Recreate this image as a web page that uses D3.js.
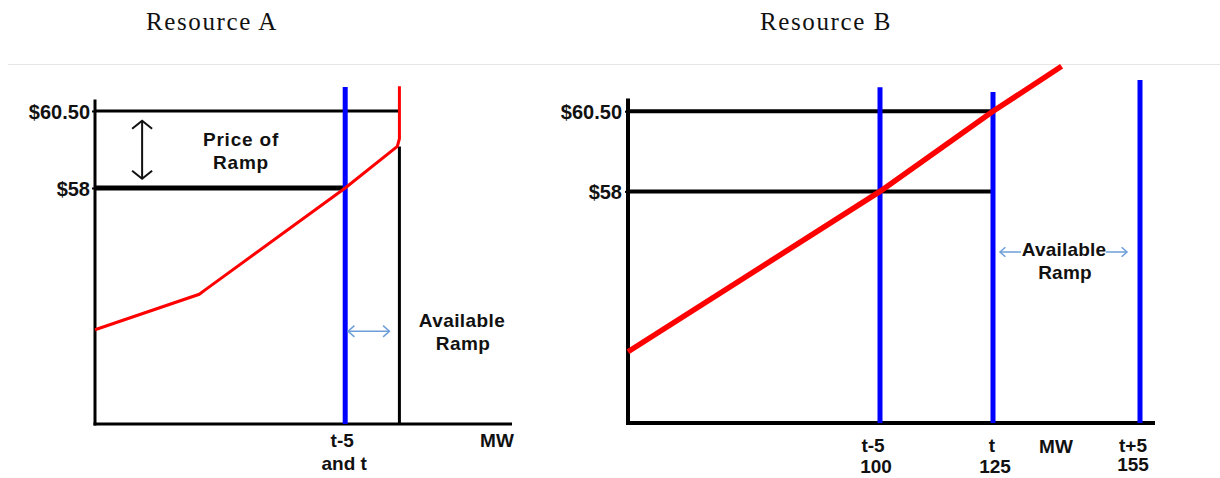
<!DOCTYPE html>
<html><head><meta charset="utf-8">
<script src="https://cdn.jsdelivr.net/npm/d3@7"></script>
<style>
html,body{margin:0;padding:0;background:#fff;}
svg{display:block;}
text{font-family:"Liberation Sans",Arial,sans-serif;font-weight:bold;fill:#111;}
.title{font-family:"Liberation Serif","Times New Roman",serif;font-weight:normal;}
</style></head>
<body>
<svg id="c" width="1220" height="478"></svg>
<script>
// ---------- data ----------
const titles = ["Resource A", "Resource B"];
const priceTicks = [60.5, 58];
const priceLabels = ["$60.50", "$58"];

// Resource A (offer curve, MW vs $)
const aOfferMW    = [40, 65, 66.5, 100, 112.5, 113, 113];
const aOfferPrice = [53.4, 54.55, 54.7, 58, 59.35, 59.6, 61.3];
const aDispatchMW = 100;            // t-5 and t
const aLimitMW = 113;               // available ramp limit
const aXLabels = ["t-5", "and t"];

// Resource B
const bOfferMW    = [44, 100, 125, 139];
const bOfferPrice = [53.0, 58.0, 60.5, 61.9];
const bDispatchMW = [100, 125, 155];
const bDispatchTop = [61.25, 61.1, 61.47];
const bDispatchLabels = ["t-5", "t", "t+5"];
const bDispatchValues = ["100", "125", "155"];

// ---------- drawing ----------
const svg = d3.select("#c");
const BLUE = "#0000ff", RED = "#ff0000", LBLUE = "#6d9ed8";
const FS = 19;

// titles
svg.selectAll("text.title").data(titles).join("text")
  .attr("class","title")
  .attr("x",(d,i)=> i===0 ? 212 : 826).attr("y",30)
  .attr("text-anchor","middle").attr("font-size",25).attr("letter-spacing",1.6)
  .text(d=>d);
svg.append("line").attr("x1",8).attr("x2",1220).attr("y1",64.5).attr("y2",64.5)
  .attr("stroke","#e6e6e6").attr("stroke-width",1);

function arrowHead(g, x, y, dir, size, color, sw){
  let p;
  if(dir==="up") p=[[x-size,y+size*0.8],[x,y],[x+size,y+size*0.8]];
  if(dir==="down") p=[[x-size,y-size*0.8],[x,y],[x+size,y-size*0.8]];
  if(dir==="left") p=[[x+size*0.9,y-size*0.8],[x,y],[x+size*0.9,y+size*0.8]];
  if(dir==="right") p=[[x-size*0.9,y-size*0.8],[x,y],[x-size*0.9,y+size*0.8]];
  g.append("path").attr("d",d3.line()(p)).attr("fill","none")
   .attr("stroke",color).attr("stroke-width",sw);
}

// ===== Panel A =====
{
  const x = d3.scaleLinear().domain([40,140]).range([95,512]);
  const y = d3.scaleLinear().domain([50.34,61.31]).range([424,86]);
  const g = svg.append("g");

  const ya = g.append("g").attr("transform",`translate(${x(40)},0)`)
    .call(d3.axisLeft(y).tickValues(priceTicks).tickFormat((d,i)=>priceLabels[i]).tickSize(3));
  ya.select(".domain").remove();
  ya.selectAll(".tick line").attr("stroke","#000").attr("stroke-width",2);
  ya.selectAll(".tick text").attr("font-size",20).attr("font-family",null).attr("fill","#111")
    .attr("x",-5).attr("dy","0.36em");
  g.append("line").attr("x1",x(40)).attr("x2",x(40)).attr("y1",y(60.87)).attr("y2",y.range()[0]+1.5)
    .attr("stroke","#000").attr("stroke-width",3);
  g.append("line").attr("x1",x(40)-1.5).attr("x2",x(140)).attr("y1",y.range()[0]).attr("y2",y.range()[0])
    .attr("stroke","#000").attr("stroke-width",3);

  g.append("line").attr("x1",x(40)).attr("x2",x(aLimitMW)).attr("y1",y(60.5)).attr("y2",y(60.5))
    .attr("stroke","#000").attr("stroke-width",3);
  g.append("line").attr("x1",x(40)).attr("x2",x(aDispatchMW)).attr("y1",y(58)).attr("y2",y(58))
    .attr("stroke","#000").attr("stroke-width",5);
  g.append("line").attr("x1",x(aLimitMW)).attr("x2",x(aLimitMW)).attr("y1",y(59.35)).attr("y2",y.range()[0])
    .attr("stroke","#000").attr("stroke-width",3);
  g.append("line").attr("x1",x(aDispatchMW)).attr("x2",x(aDispatchMW)).attr("y1",y(61.28)).attr("y2",y.range()[0])
    .attr("stroke",BLUE).attr("stroke-width",5);
  g.append("path").datum(d3.zip(aOfferMW,aOfferPrice))
    .attr("d",d3.line().x(d=>x(d[0])).y(d=>y(d[1])))
    .attr("fill","none").attr("stroke",RED).attr("stroke-width",3);

  const ax = x(51.3), ay1 = y(60.18), ay2 = y(58.3);
  g.append("line").attr("x1",ax).attr("x2",ax).attr("y1",ay1).attr("y2",ay2).attr("stroke","#111").attr("stroke-width",2);
  arrowHead(g,ax,ay1,"up",10,"#111",2);
  arrowHead(g,ax,ay2,"down",10,"#111",2);
  g.append("text").attr("x",241).attr("y",146).attr("text-anchor","middle").attr("font-size",FS).attr("letter-spacing",0.8).text("Price of");
  g.append("text").attr("x",241).attr("y",169).attr("text-anchor","middle").attr("font-size",FS).attr("letter-spacing",0.8).text("Ramp");

  const by = y(53.35), bx1 = x(100.7), bx2 = x(110.6);
  g.append("line").attr("x1",bx1).attr("x2",bx2).attr("y1",by).attr("y2",by).attr("stroke",LBLUE).attr("stroke-width",1.5);
  arrowHead(g,bx1,by,"left",7,LBLUE,1.5);
  arrowHead(g,bx2,by,"right",7,LBLUE,1.5);
  g.append("text").attr("x",462).attr("y",327).attr("text-anchor","middle").attr("font-size",FS).attr("letter-spacing",0.4).text("Available");
  g.append("text").attr("x",463).attr("y",350).attr("text-anchor","middle").attr("font-size",FS).attr("letter-spacing",0.4).text("Ramp");

  g.append("text").attr("x",x(aDispatchMW)-3).attr("y",447).attr("text-anchor","middle").attr("font-size",FS).text(aXLabels[0]);
  g.append("text").attr("x",x(aDispatchMW)-1).attr("y",470).attr("text-anchor","middle").attr("font-size",FS).text(aXLabels[1]);
  g.append("text").attr("x",497).attr("y",447).attr("text-anchor","middle").attr("font-size",FS).text("MW");
}

// ===== Panel B =====
{
  const x = d3.scaleLinear().domain([44,100,125,155,158]).range([628,880,993,1140,1155]);
  const y = d3.scaleLinear().domain([50.78,61.91]).range([423,66]);
  const g = svg.append("g");

  const ya = g.append("g").attr("transform",`translate(${x(44)},0)`)
    .call(d3.axisLeft(y).tickValues(priceTicks).tickFormat((d,i)=>priceLabels[i]).tickSize(3));
  ya.select(".domain").remove();
  ya.selectAll(".tick line").attr("stroke","#000").attr("stroke-width",2);
  ya.selectAll(".tick text").attr("font-size",20).attr("font-family",null).attr("fill","#111")
    .attr("x",-6).attr("dy","0.36em");
  g.append("line").attr("x1",x(44)).attr("x2",x(44)).attr("y1",y(60.9)).attr("y2",y.range()[0]+2)
    .attr("stroke","#000").attr("stroke-width",4);
  g.append("line").attr("x1",x(44)-2).attr("x2",x(158)).attr("y1",y.range()[0]).attr("y2",y.range()[0])
    .attr("stroke","#000").attr("stroke-width",4);

  g.selectAll("line.price").data(priceTicks).join("line").attr("class","price")
    .attr("x1",x(44)).attr("x2",x(125)).attr("y1",d=>y(d)).attr("y2",d=>y(d))
    .attr("stroke","#000").attr("stroke-width",4);

  g.selectAll("line.disp").data(bDispatchMW).join("line").attr("class","disp")
    .attr("x1",d=>x(d)).attr("x2",d=>x(d)).attr("y1",(d,i)=>y(bDispatchTop[i])).attr("y2",y.range()[0])
    .attr("stroke",BLUE).attr("stroke-width",5);

  g.append("path").datum(d3.zip(bOfferMW,bOfferPrice))
    .attr("d",d3.line().x(d=>x(d[0])).y(d=>y(d[1])))
    .attr("fill","none").attr("stroke",RED).attr("stroke-width",5.5);

  const ry = 252;
  g.append("line").attr("x1",1000).attr("x2",1021).attr("y1",ry).attr("y2",ry).attr("stroke",LBLUE).attr("stroke-width",1.5);
  g.append("line").attr("x1",1106).attr("x2",1127).attr("y1",ry).attr("y2",ry).attr("stroke",LBLUE).attr("stroke-width",1.5);
  arrowHead(g,1000,ry,"left",6,LBLUE,1.5);
  arrowHead(g,1127,ry,"right",6,LBLUE,1.5);
  g.append("text").attr("x",1064).attr("y",256).attr("text-anchor","middle").attr("font-size",FS).attr("letter-spacing",0.2).text("Available");
  g.append("text").attr("x",1065).attr("y",279).attr("text-anchor","middle").attr("font-size",FS).attr("letter-spacing",0.2).text("Ramp");

  g.selectAll("text.xl").data(bDispatchMW).join("text").attr("class","xl")
    .attr("x",(d,i)=>x(d)-(i===0?7:i===1?1:7)).attr("y",452).attr("text-anchor","middle").attr("font-size",FS)
    .text((d,i)=>bDispatchLabels[i]);
  g.selectAll("text.xv").data(bDispatchMW).join("text").attr("class","xv")
    .attr("x",(d,i)=>x(d)-(i===0?4:i===1?-2:7)).attr("y",(d,i)=>i===2?471:473).attr("text-anchor","middle").attr("font-size",FS)
    .text((d,i)=>bDispatchValues[i]);
  g.append("text").attr("x",1056).attr("y",453).attr("text-anchor","middle").attr("font-size",FS).text("MW");
}
</script>
</body></html>
